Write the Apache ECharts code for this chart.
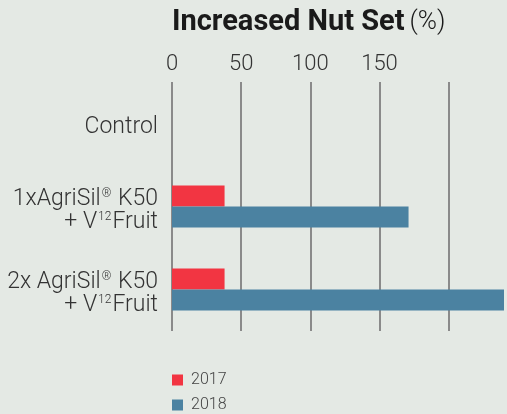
<!DOCTYPE html>
<html><head><meta charset="utf-8">
<style>html,body{margin:0;padding:0;background:#e4e9e4;}#c{width:507px;height:414px;}</style>
<script src="https://cdn.jsdelivr.net/npm/echarts@6/dist/echarts.min.js"></script>
</head><body><div id="c"></div>
<script>
const categories = ['Control', '1xAgriSil® K50 + V12Fruit', '2x AgriSil® K50 + V12Fruit'];
const seriesNames = ['2017', '2018'];
const values2017 = [0, 38, 38];
const values2018 = [0, 171, 245];
const tickLabels = [0, 50, 100, 150];

const labelRich = {
  '0': '{a|Control}',
  '1': '{a|1xAgriSil}{s|®}{a| K50}\n{a|+ V}{s|12}{a|Fruit}',
  '2': '{a|2x AgriSil}{s|®}{a| K50}\n{a|+ V}{s|12}{a|Fruit}'
};
const ff = 'Roboto, "Liberation Sans", sans-serif';
const chart = echarts.init(document.getElementById('c'));
chart.setOption({
  backgroundColor: '#e4e9e4',
  animation: false,
  title: {
    text: '{b|Increased Nut Set} {r|(%)}',
    left: 172, top: 8, padding: 0,
    textStyle: {
      rich: {
        b: {fontFamily: ff, fontSize: 29, fontWeight: 'bold', color: '#1a1a1a'},
        r: {fontFamily: ff, fontSize: 26, fontWeight: 300, color: '#1a1a1a'}
      }
    }
  },
  legend: {
    data: seriesNames,
    orient: 'vertical',
    left: 172, top: 372, padding: 0,
    itemWidth: 11, itemHeight: 11, itemGap: 9,
    icon: 'rect',
    textStyle: {fontFamily: ff, fontSize: 16, fontWeight: 300, color: '#444', lineHeight: 16, padding: [0, 0, 0, 3]}
  },
  grid: {left: 172, right: 0, top: 82, bottom: 83, containLabel: false},
  xAxis: {
    type: 'value', position: 'top', min: 0, max: 240, interval: 50,
    axisLine: {show: false}, axisTick: {show: false},
    axisLabel: {
      margin: 7, fontFamily: ff, fontSize: 22, fontWeight: 300, color: '#333',
      formatter: v => tickLabels.indexOf(v) >= 0 ? String(v) : ''
    },
    splitLine: {show: true, showMaxLine: false, lineStyle: {color: '#8a8a8a', width: 2}}
  },
  yAxis: {
    type: 'category', data: categories, inverse: true,
    axisLine: {show: false}, axisTick: {show: false},
    axisLabel: {
      margin: 14,
      padding: [8, 0, 0, 0],
      formatter: (v, i) => labelRich[i],
      rich: {
        a: {fontFamily: ff, fontSize: 23, fontWeight: 300, color: '#333', lineHeight: 23},
        s: {fontFamily: ff, fontSize: 12, fontWeight: 300, color: '#333', lineHeight: 23, verticalAlign: 'top', padding: [0, 1, 8, 1]}
      }
    }
  },
  series: [
    {name: seriesNames[0], type: 'bar', data: values2017, barWidth: 21, barGap: '0%', itemStyle: {color: '#f23542'}},
    {name: seriesNames[1], type: 'bar', data: values2018, barWidth: 21, barGap: '0%', clip: true, itemStyle: {color: '#4b82a1'}}
  ]
});
</script></body></html>
